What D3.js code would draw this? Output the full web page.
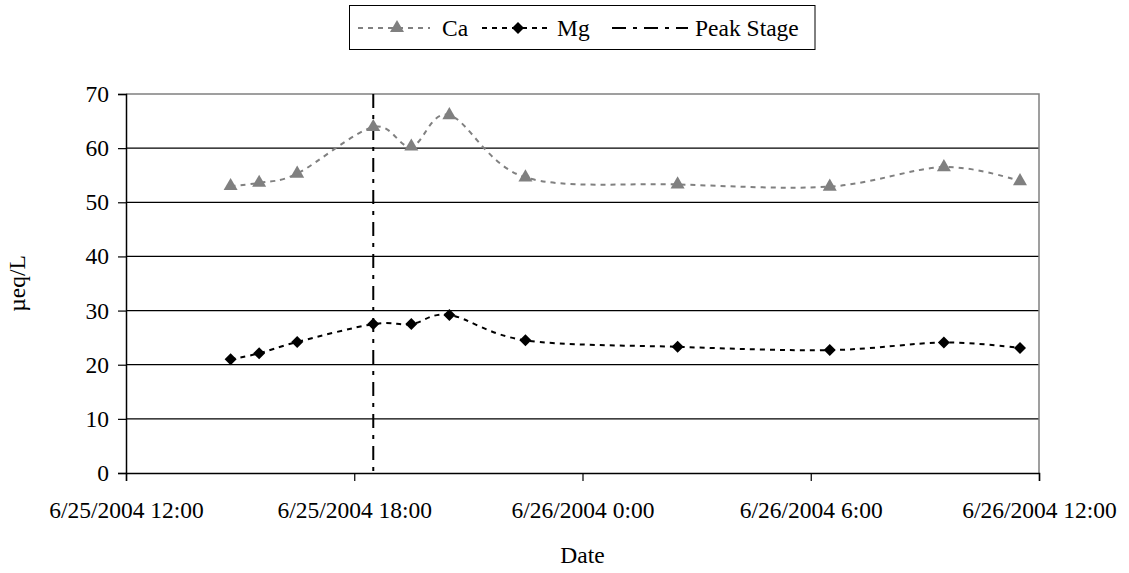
<!DOCTYPE html>
<html>
<head>
<meta charset="utf-8">
<script src="https://cdn.jsdelivr.net/npm/d3@7"></script>
<style>
  html, body { margin: 0; padding: 0; background: #fff; }
  svg { display: block; }
  svg text { font-family: "Liberation Serif", "Times New Roman", Tinos, "Noto Serif", "DejaVu Serif", serif; fill: #000; }
</style>
</head>
<body>
<svg id="chart" width="1129" height="573"></svg>
<script>
// ---- data ----
const sampleTimes = ["6/25/2004 14:45","6/25/2004 15:30","6/25/2004 16:30","6/25/2004 18:30","6/25/2004 19:30","6/25/2004 20:30","6/25/2004 22:30","6/26/2004 2:30","6/26/2004 6:30","6/26/2004 9:30","6/26/2004 11:30"];
const caValues = [53.0, 53.6, 55.3, 63.9, 60.3, 66.1, 54.6, 53.3, 52.9, 56.5, 53.9];
const mgValues = [21.0, 22.1, 24.2, 27.5, 27.5, 29.2, 24.5, 23.3, 22.7, 24.1, 23.1];
const peakStageTime = "6/25/2004 18:30";
const xDomain = ["6/25/2004 12:00", "6/26/2004 12:00"];
const xTickTimes = ["6/25/2004 12:00","6/25/2004 18:00","6/26/2004 0:00","6/26/2004 6:00","6/26/2004 12:00"];
const yTicks = [0, 10, 20, 30, 40, 50, 60, 70];
const seriesNames = ["Ca", "Mg", "Peak Stage"];

// ---- setup ----
const parse = d3.timeParse("%m/%d/%Y %H:%M");
const fmt = d3.timeFormat("%-m/%-d/%Y %-H:%M");
const svg = d3.select("#chart");
const L = 126, R = 1039, T = 94, B = 473;
const FS = "23.5px";
const FF = '"Liberation Serif", "Times New Roman", Tinos, "Noto Serif", "DejaVu Serif", serif';

const x = d3.scaleTime().domain(xDomain.map(parse)).range([L, R]);
const y = d3.scaleLinear().domain([0, 70]).range([B, T]);

// gridlines
svg.append("g").selectAll("line").data(yTicks.filter(v => v > 0 && v < 70)).join("line")
  .attr("x1", L).attr("x2", R)
  .attr("y1", d => y(d)).attr("y2", d => y(d))
  .attr("stroke", "#000").attr("stroke-width", 1.2);

// plot border (top/right grey)
svg.append("path")
  .attr("d", `M${L},${y(70)}H${R}V${B}`)
  .attr("fill", "none").attr("stroke", "#808080").attr("stroke-width", 1.5);

// y axis
const yAxis = d3.axisLeft(y).tickValues(yTicks).tickSize(8).tickPadding(9).tickFormat(d3.format("d"));
const gy = svg.append("g").attr("transform", `translate(${L},0)`).call(yAxis).attr("font-family", FF);
gy.select(".domain").attr("stroke", "#000").attr("stroke-width", 1.5);
gy.selectAll(".tick line").attr("stroke", "#000").attr("stroke-width", 1.2);
gy.selectAll(".tick text").style("font-size", FS).style("font-family", FF).attr("fill", "#000");

// x axis
const xAxis = d3.axisBottom(x).tickValues(xTickTimes.map(parse)).tickSize(8).tickPadding(0).tickFormat(fmt);
const gx = svg.append("g").attr("transform", `translate(0,${B})`).call(xAxis).attr("font-family", FF);
gx.select(".domain").attr("stroke", "#000").attr("stroke-width", 1.5);
gx.selectAll(".tick line").attr("stroke", "#000").attr("stroke-width", 1.2);
gx.selectAll(".tick text").style("font-size", FS).style("font-family", FF)
  .attr("fill", "#000").attr("dy", null).attr("y", 45);

// axis titles
svg.append("text").attr("x", (L + R) / 2).attr("y", 563).attr("text-anchor", "middle")
  .style("font-size", FS).style("font-family", FF).text("Date");
svg.append("text").attr("transform", `translate(25,${(T + B) / 2}) rotate(-90)`)
  .attr("text-anchor", "middle").style("font-size", FS).style("font-family", FF).text("µeq/L");

// peak stage line
const px = x(parse(peakStageTime));
svg.append("line").attr("x1", px).attr("x2", px).attr("y1", y(70)).attr("y2", y(0))
  .attr("stroke", "#000").attr("stroke-width", 2).attr("stroke-dasharray", "14,7,4,7");

const times = sampleTimes.map(parse);
const line = d3.line().x(d => x(d[0])).y(d => y(d[1])).curve(d3.curveCatmullRom.alpha(0));

// Ca
const caData = times.map((t, i) => [t, caValues[i]]);
svg.append("path").datum(caData).attr("d", line)
  .attr("fill", "none").attr("stroke", "#808080").attr("stroke-width", 2).attr("stroke-dasharray", "5,5");
const tri = d3.symbol().type(d3.symbolTriangle).size(85);
svg.append("g").selectAll("path").data(caData).join("path")
  .attr("d", tri).attr("transform", d => `translate(${x(d[0])},${y(d[1])})`).attr("fill", "#808080");

// Mg
const mgData = times.map((t, i) => [t, mgValues[i]]);
svg.append("path").datum(mgData).attr("d", line)
  .attr("fill", "none").attr("stroke", "#000").attr("stroke-width", 2).attr("stroke-dasharray", "5,5");
const dia = d3.symbol().type(d3.symbolSquare).size(72);
svg.append("g").selectAll("path").data(mgData).join("path")
  .attr("d", dia).attr("transform", d => `translate(${x(d[0])},${y(d[1])}) rotate(45)`).attr("fill", "#000");

// legend
const lg = svg.append("g");
lg.append("rect").attr("x", 349.5).attr("y", 5.5).attr("width", 465.5).attr("height", 44)
  .attr("fill", "#fff").attr("stroke", "#000").attr("stroke-width", 1);
const lgY = 28;
lg.append("line").attr("x1", 358).attr("x2", 430).attr("y1", lgY).attr("y2", lgY)
  .attr("stroke", "#808080").attr("stroke-width", 2).attr("stroke-dasharray", "5,5");
lg.append("path").attr("d", tri).attr("transform", `translate(397,${lgY})`).attr("fill", "#808080");
lg.append("text").attr("x", 442).attr("y", 36).style("font-size", FS).style("font-family", FF).text(seriesNames[0]);
lg.append("line").attr("x1", 482).attr("x2", 552).attr("y1", lgY).attr("y2", lgY)
  .attr("stroke", "#000").attr("stroke-width", 2).attr("stroke-dasharray", "5,5");
lg.append("path").attr("d", dia).attr("transform", `translate(518,${lgY}) rotate(45)`).attr("fill", "#000");
lg.append("text").attr("x", 557).attr("y", 36).style("font-size", FS).style("font-family", FF).text(seriesNames[1]);
lg.append("line").attr("x1", 612).attr("x2", 688).attr("y1", lgY).attr("y2", lgY)
  .attr("stroke", "#000").attr("stroke-width", 2).attr("stroke-dasharray", "14,7,4,7");
lg.append("text").attr("x", 695).attr("y", 36).style("font-size", FS).style("font-family", FF).text(seriesNames[2]);
</script>
</body>
</html>
